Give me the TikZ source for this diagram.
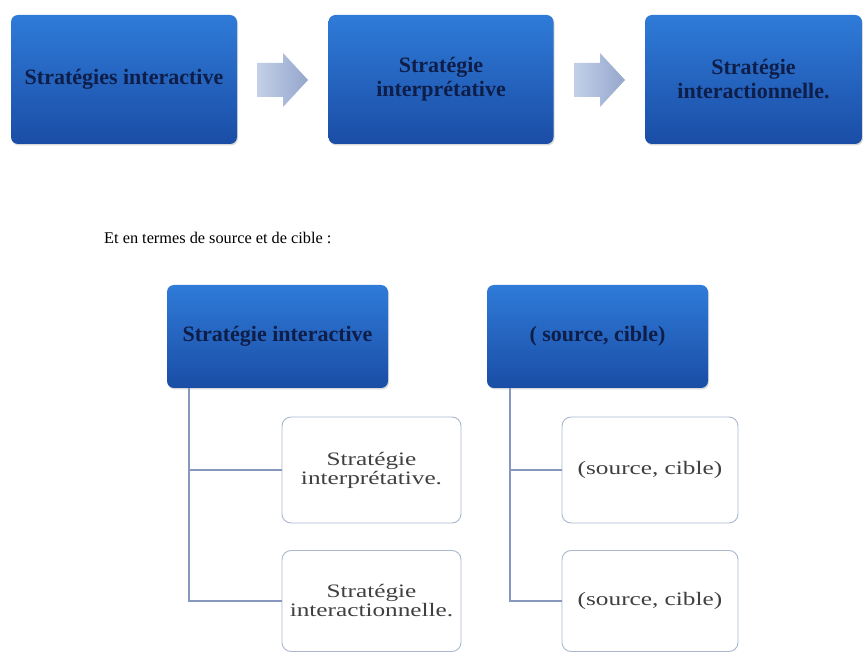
\documentclass[tikz,border=0pt]{standalone}
\usepackage{fontspec}
\setmainfont{Liberation Serif}
\newfontfamily\widefont[FakeStretch=1.33]{Liberation Serif}
\usetikzlibrary{shadows}
\definecolor{bluetop}{HTML}{2F7BD8}
\definecolor{bluebot}{HTML}{1A4DA6}
\definecolor{navytxt}{HTML}{0E1E48}
\definecolor{childline}{HTML}{A9B8CF}
\definecolor{treeline}{HTML}{8797BD}
\definecolor{arrowlt}{HTML}{C3D0E8}
\definecolor{arrowdk}{HTML}{94A6CC}
\tikzset{
  bluebox/.style={rounded corners=7pt, top color=bluetop, bottom color=bluebot,
    draw=none, drop shadow={opacity=0.3, shadow xshift=1pt, shadow yshift=-1.5pt},
    text=navytxt, font=\bfseries\fontsize{22}{24}\selectfont, align=center,
    inner sep=0pt},
  childbox/.style={rounded corners=9pt, draw=childline, line width=0.9pt, fill=white,
    text=black!75, font=\widefont\fontsize{19}{19}\selectfont, align=center, inner sep=0pt},
  flowarrow/.style={left color=arrowlt, right color=arrowdk, draw=none},
  treelink/.style={draw=treeline, line width=1.4pt},
}
\begin{document}
\begin{tikzpicture}[x=1pt,y=-1pt]
\useasboundingbox (0,0) rectangle (863,652);
% top row: three strategies
\node[bluebox, minimum width=226pt, minimum height=129pt] (s1) at (124,79.5) {Stratégies interactive};
\node[bluebox, minimum width=225pt, minimum height=129pt] (s2) at (441,79.5) {Stratégie\\interprétative};
\node[bluebox, minimum width=217pt, minimum height=129pt] (s3) at (753.5,79.5) {Stratégie\\interactionnelle.};
% block arrows between the boxes
\foreach \x in {257,574}{
  \path[flowarrow] (\x,63) -- (\x+26,63) -- (\x+26,53) -- (\x+51,80) -- (\x+26,107)
    -- (\x+26,97) -- (\x,97) -- cycle;
}
% caption
\node[anchor=west, font=\fontsize{16.3}{18}\selectfont, inner sep=0pt] (cap) at (104,238) {Et en termes de source et de cible :};
% left tree
\node[bluebox, minimum width=221pt, minimum height=103pt] (l0) at (277.5,336.5) {Stratégie interactive};
\node[childbox, minimum width=179pt, minimum height=106pt] (l1) at (371.5,470) {Stratégie\\interprétative.};
\node[childbox, minimum width=179pt, minimum height=101pt] (l2) at (371.5,601) {Stratégie\\interactionnelle.};
\coordinate (lt) at (189,0);
\draw[treelink] (l0.south -| lt) |- (l1.west);
\draw[treelink] (l0.south -| lt) |- (l2.west);
% right tree
\node[bluebox, minimum width=221pt, minimum height=103pt] (r0) at (597.5,336.5) {( source, cible)};
\node[childbox, minimum width=176pt, minimum height=106pt] (r1) at (650,470) {(source, cible)};
\node[childbox, minimum width=176pt, minimum height=101pt] (r2) at (650,601) {(source, cible)};
\coordinate (rt) at (510,0);
\draw[treelink] (r0.south -| rt) |- (r1.west);
\draw[treelink] (r0.south -| rt) |- (r2.west);
\end{tikzpicture}
\end{document}
